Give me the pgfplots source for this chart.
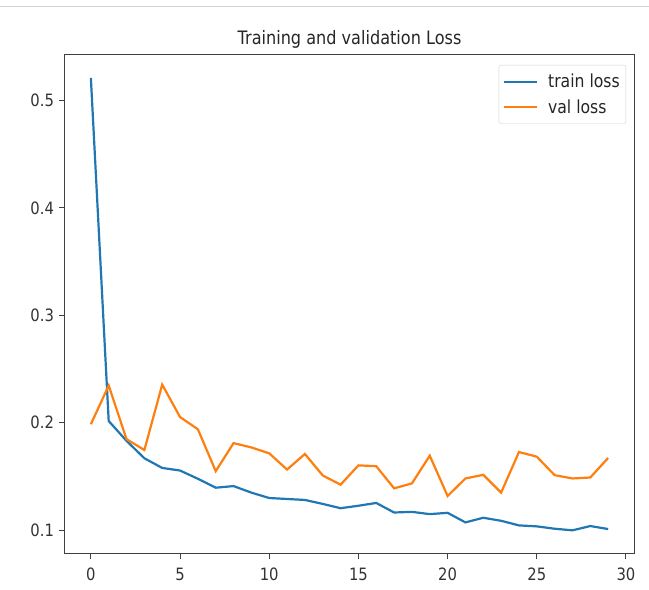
\documentclass[border=0pt]{standalone}
\usepackage{pgfplots}
\pgfplotsset{compat=1.18}
\usepackage{fontspec}
\setmainfont{DejaVu Sans}
\newfontfamily\tallfont[FakeStretch=0.87]{DejaVu Sans}
\definecolor{mplblue}{HTML}{1F77B4}
\definecolor{mplorange}{HTML}{FF7F0E}
\begin{document}
\begin{tikzpicture}
\useasboundingbox (0,0) rectangle (649pt,590pt);
\draw[black!18, line width=1pt] (0,583pt) -- (649pt,583pt);
\begin{axis}[
  at={(65pt,37pt)}, anchor=south west,
  width=569pt, height=498pt, scale only axis,
  xmin=-1.45, xmax=30.45, ymin=0.0786, ymax=0.5423,
  xtick={0,5,...,30}, ytick={0.1,0.2,0.3,0.4,0.5},
  yticklabel style={/pgf/number format/fixed, /pgf/number format/precision=1, xshift=-2pt},
  xticklabel style={yshift=-6pt},
  /pgf/number format/assume math mode=true,
  tick align=outside, major tick length=5.5pt,
  xtick pos=bottom, ytick pos=left,
  axis line style={black!75, line width=1pt},
  tick style={black!75, line width=1pt},
  ticklabel style={font=\tallfont\fontsize{17}{19}\selectfont, text=black!80},
  title={Training and validation Loss},
  title style={font=\tallfont\fontsize{18.5}{20}\selectfont, text=black!85, at={(0.5,1)}, anchor=base, yshift=4.5pt},
  legend style={at={(1,1)}, xshift=-8pt, yshift=-10pt, anchor=north east, draw=black!18, rounded corners=2pt,
    font=\tallfont\fontsize{18}{20}\selectfont, text=black!85, row sep=6pt, inner xsep=4pt, inner ysep=7pt},
  legend cell align=left,
  legend image code/.code={\draw[#1] (0pt,0pt) -- (33pt,0pt); \path (41pt,0pt);},
]
\addplot[mplblue, line width=2.2pt] coordinates {
(0,0.521) (1,0.2015) (2,0.183) (3,0.1668) (4,0.1578) (5,0.1554) (6,0.1477) (7,0.1394)
(8,0.1409) (9,0.1348) (10,0.1298) (11,0.1289) (12,0.1280) (13,0.1243) (14,0.1203)
(15,0.1226) (16,0.1252) (17,0.1163) (18,0.1169) (19,0.1148) (20,0.1160) (21,0.1071)
(22,0.1114) (23,0.1086) (24,0.1043) (25,0.1034) (26,0.1012) (27,0.0997) (28,0.1037) (29,0.1009)
};
\addlegendentry{train loss}
\addplot[mplorange, line width=2.2pt] coordinates {
(0,0.1985) (1,0.2345) (2,0.1846) (3,0.1745) (4,0.2354) (5,0.2052) (6,0.1938) (7,0.1548)
(8,0.1809) (9,0.1769) (10,0.1714) (11,0.1563) (12,0.1708) (13,0.1508) (14,0.1422)
(15,0.1602) (16,0.1594) (17,0.1388) (18,0.1434) (19,0.1692) (20,0.1317) (21,0.1480)
(22,0.1514) (23,0.1348) (24,0.1726) (25,0.1683) (26,0.1511) (27,0.1480) (28,0.1489) (29,0.1671)
};
\addlegendentry{val loss}
\end{axis}
\end{tikzpicture}
\end{document}
